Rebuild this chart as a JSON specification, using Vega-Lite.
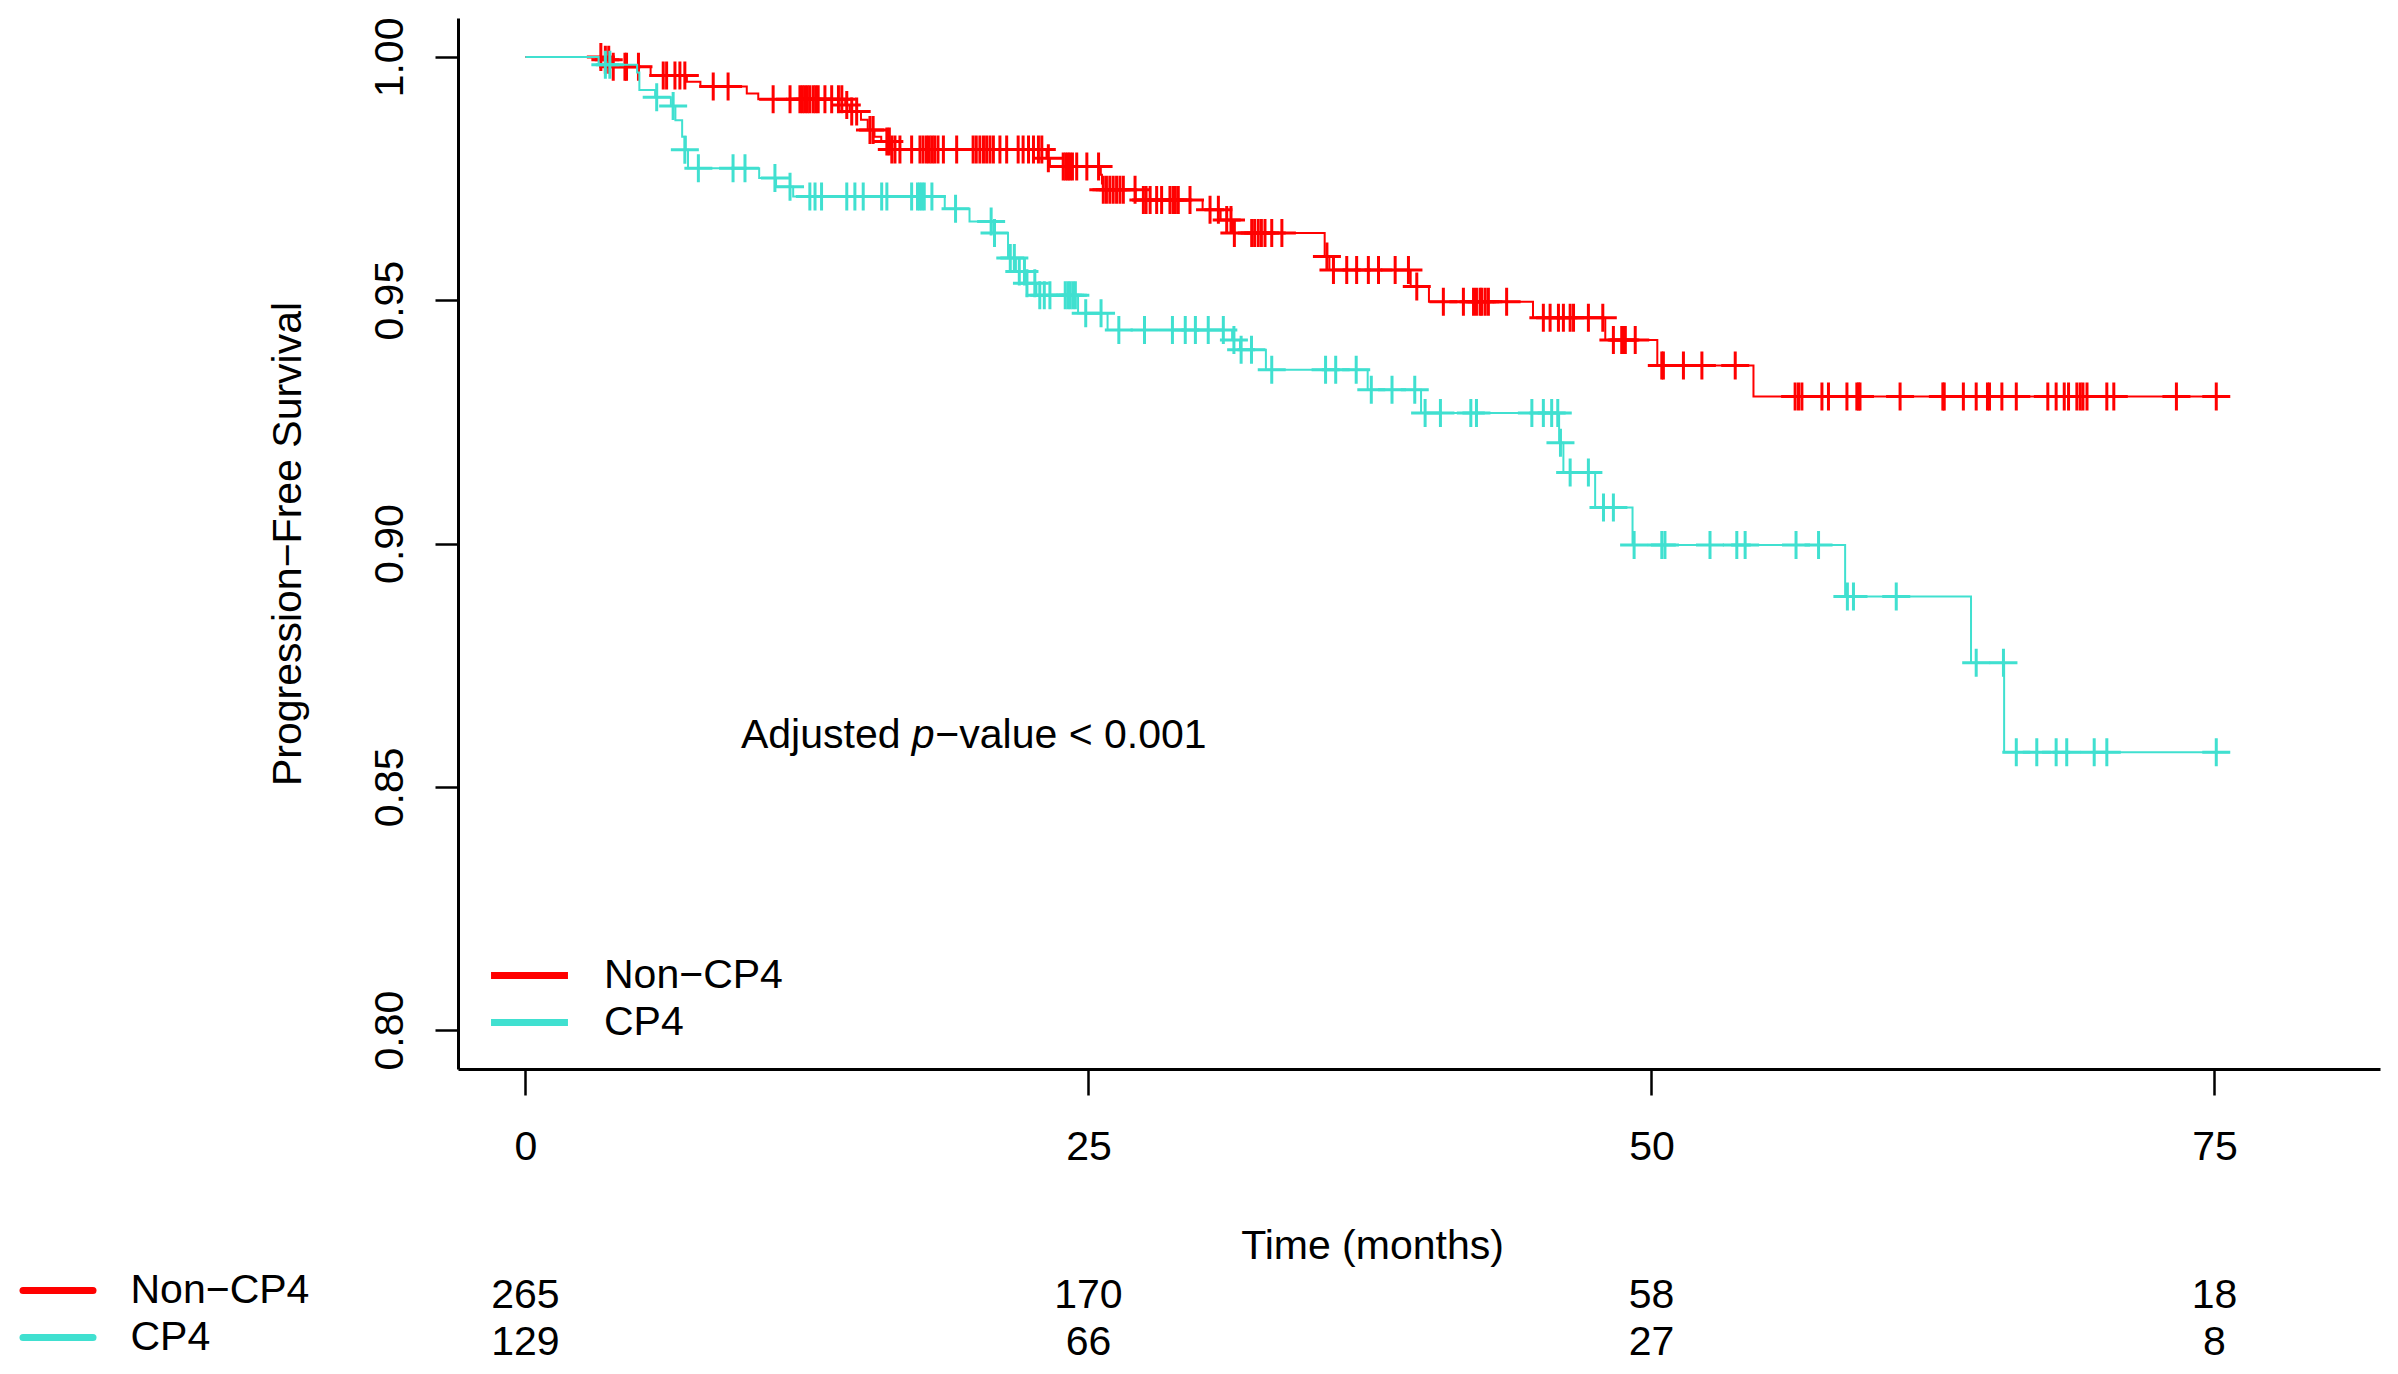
{
  "$schema": "https://vega.github.io/schema/vega-lite/v6.json",
  "width": 1922,
  "height": 1051,
  "autosize": {"type": "none"},
  "padding": {"left": 458, "top": 18, "right": 18, "bottom": 305},
  "background": "white",
  "config": {
    "view": {"stroke": null},
    "font": "Liberation Sans",
    "axis": {"labelFont": "Liberation Sans", "titleFont": "Liberation Sans", "domainColor": "black", "tickColor": "black", "labelColor": "black", "titleColor": "black", "grid": false},
    "legend": {"labelFont": "Liberation Sans", "labelColor": "black"},
    "text": {"font": "Liberation Sans"}
  },
  "datasets": {
    "curve": [
      {"group": "Non−CP4", "t": 0, "s": 1.0},
      {"group": "Non−CP4", "t": 3.35, "s": 0.9994},
      {"group": "Non−CP4", "t": 3.85, "s": 0.998},
      {"group": "Non−CP4", "t": 5.56, "s": 0.9962},
      {"group": "Non−CP4", "t": 7.17, "s": 0.9949},
      {"group": "Non−CP4", "t": 7.77, "s": 0.9939},
      {"group": "Non−CP4", "t": 9.83, "s": 0.9925},
      {"group": "Non−CP4", "t": 10.34, "s": 0.9913},
      {"group": "Non−CP4", "t": 14.2, "s": 0.9901},
      {"group": "Non−CP4", "t": 14.4, "s": 0.9888},
      {"group": "Non−CP4", "t": 14.9, "s": 0.9871},
      {"group": "Non−CP4", "t": 15.2, "s": 0.985},
      {"group": "Non−CP4", "t": 15.5, "s": 0.9836},
      {"group": "Non−CP4", "t": 15.8, "s": 0.9826},
      {"group": "Non−CP4", "t": 16.21, "s": 0.981},
      {"group": "Non−CP4", "t": 23.14, "s": 0.9792},
      {"group": "Non−CP4", "t": 23.29, "s": 0.9775},
      {"group": "Non−CP4", "t": 25.55, "s": 0.9758},
      {"group": "Non−CP4", "t": 25.6, "s": 0.974},
      {"group": "Non−CP4", "t": 25.65, "s": 0.9727},
      {"group": "Non−CP4", "t": 27.1, "s": 0.9706},
      {"group": "Non−CP4", "t": 30.07, "s": 0.9686},
      {"group": "Non−CP4", "t": 30.87, "s": 0.9665},
      {"group": "Non−CP4", "t": 31.4, "s": 0.9638},
      {"group": "Non−CP4", "t": 35.49, "s": 0.959},
      {"group": "Non−CP4", "t": 35.7, "s": 0.9562},
      {"group": "Non−CP4", "t": 39.31, "s": 0.9528},
      {"group": "Non−CP4", "t": 40.12, "s": 0.9497},
      {"group": "Non−CP4", "t": 44.74, "s": 0.9464},
      {"group": "Non−CP4", "t": 47.95, "s": 0.9418},
      {"group": "Non−CP4", "t": 50.26, "s": 0.9366},
      {"group": "Non−CP4", "t": 54.53, "s": 0.9302},
      {"group": "Non−CP4", "t": 75.68, "s": 0.9302},
      {"group": "CP4", "t": 0, "s": 1.0},
      {"group": "CP4", "t": 3.25, "s": 0.9984},
      {"group": "CP4", "t": 4.96, "s": 0.9968},
      {"group": "CP4", "t": 5.06, "s": 0.9932},
      {"group": "CP4", "t": 5.76, "s": 0.9917},
      {"group": "CP4", "t": 6.46, "s": 0.9899},
      {"group": "CP4", "t": 6.66, "s": 0.987},
      {"group": "CP4", "t": 6.96, "s": 0.9836},
      {"group": "CP4", "t": 7.12, "s": 0.9809},
      {"group": "CP4", "t": 7.22, "s": 0.9771},
      {"group": "CP4", "t": 10.38, "s": 0.9751},
      {"group": "CP4", "t": 11.13, "s": 0.9733},
      {"group": "CP4", "t": 11.89, "s": 0.9713},
      {"group": "CP4", "t": 18.62, "s": 0.9688},
      {"group": "CP4", "t": 19.72, "s": 0.9662},
      {"group": "CP4", "t": 20.78, "s": 0.9638},
      {"group": "CP4", "t": 21.43, "s": 0.9587},
      {"group": "CP4", "t": 21.78, "s": 0.9559},
      {"group": "CP4", "t": 22.23, "s": 0.9535},
      {"group": "CP4", "t": 22.69, "s": 0.951},
      {"group": "CP4", "t": 24.54, "s": 0.9473},
      {"group": "CP4", "t": 25.85, "s": 0.9439},
      {"group": "CP4", "t": 31.38, "s": 0.9418},
      {"group": "CP4", "t": 31.73, "s": 0.9398},
      {"group": "CP4", "t": 32.88, "s": 0.9357},
      {"group": "CP4", "t": 37.4, "s": 0.9316},
      {"group": "CP4", "t": 39.77, "s": 0.9268},
      {"group": "CP4", "t": 45.9, "s": 0.9207},
      {"group": "CP4", "t": 46.09, "s": 0.9146},
      {"group": "CP4", "t": 47.5, "s": 0.9074},
      {"group": "CP4", "t": 49.16, "s": 0.8997},
      {"group": "CP4", "t": 58.6, "s": 0.8891},
      {"group": "CP4", "t": 64.19, "s": 0.8755},
      {"group": "CP4", "t": 65.66, "s": 0.8571},
      {"group": "CP4", "t": 75.68, "s": 0.8571}
    ],
    "censor": [
      {"group": "Non−CP4", "t": 3.35, "s": 1.0},
      {"group": "Non−CP4", "t": 3.55, "s": 0.9994},
      {"group": "Non−CP4", "t": 3.7, "s": 0.9994},
      {"group": "Non−CP4", "t": 3.9, "s": 0.998},
      {"group": "Non−CP4", "t": 4.42, "s": 0.998},
      {"group": "Non−CP4", "t": 4.49, "s": 0.998},
      {"group": "Non−CP4", "t": 5.02, "s": 0.998},
      {"group": "Non−CP4", "t": 6.12, "s": 0.9962},
      {"group": "Non−CP4", "t": 6.27, "s": 0.9962},
      {"group": "Non−CP4", "t": 6.64, "s": 0.9962},
      {"group": "Non−CP4", "t": 6.86, "s": 0.9962},
      {"group": "Non−CP4", "t": 7.08, "s": 0.9962},
      {"group": "Non−CP4", "t": 8.34, "s": 0.9939},
      {"group": "Non−CP4", "t": 9.0, "s": 0.9939},
      {"group": "Non−CP4", "t": 11.0, "s": 0.9913},
      {"group": "Non−CP4", "t": 11.75, "s": 0.9913},
      {"group": "Non−CP4", "t": 12.19, "s": 0.9913},
      {"group": "Non−CP4", "t": 12.3, "s": 0.9913},
      {"group": "Non−CP4", "t": 12.41, "s": 0.9913},
      {"group": "Non−CP4", "t": 12.52, "s": 0.9913},
      {"group": "Non−CP4", "t": 12.63, "s": 0.9913},
      {"group": "Non−CP4", "t": 12.78, "s": 0.9913},
      {"group": "Non−CP4", "t": 12.89, "s": 0.9913},
      {"group": "Non−CP4", "t": 13.0, "s": 0.9913},
      {"group": "Non−CP4", "t": 13.3, "s": 0.9913},
      {"group": "Non−CP4", "t": 13.6, "s": 0.9913},
      {"group": "Non−CP4", "t": 13.9, "s": 0.9913},
      {"group": "Non−CP4", "t": 14.05, "s": 0.9913},
      {"group": "Non−CP4", "t": 14.27, "s": 0.9901},
      {"group": "Non−CP4", "t": 14.49, "s": 0.9888},
      {"group": "Non−CP4", "t": 14.71, "s": 0.9888},
      {"group": "Non−CP4", "t": 15.3, "s": 0.985},
      {"group": "Non−CP4", "t": 15.44, "s": 0.985},
      {"group": "Non−CP4", "t": 16.05, "s": 0.9826},
      {"group": "Non−CP4", "t": 16.16, "s": 0.9826},
      {"group": "Non−CP4", "t": 16.27, "s": 0.981},
      {"group": "Non−CP4", "t": 16.41, "s": 0.981},
      {"group": "Non−CP4", "t": 16.63, "s": 0.981},
      {"group": "Non−CP4", "t": 17.15, "s": 0.981},
      {"group": "Non−CP4", "t": 17.52, "s": 0.981},
      {"group": "Non−CP4", "t": 17.66, "s": 0.981},
      {"group": "Non−CP4", "t": 17.81, "s": 0.981},
      {"group": "Non−CP4", "t": 17.93, "s": 0.981},
      {"group": "Non−CP4", "t": 18.05, "s": 0.981},
      {"group": "Non−CP4", "t": 18.17, "s": 0.981},
      {"group": "Non−CP4", "t": 18.32, "s": 0.981},
      {"group": "Non−CP4", "t": 18.56, "s": 0.981},
      {"group": "Non−CP4", "t": 19.15, "s": 0.981},
      {"group": "Non−CP4", "t": 19.88, "s": 0.981},
      {"group": "Non−CP4", "t": 20.02, "s": 0.981},
      {"group": "Non−CP4", "t": 20.18, "s": 0.981},
      {"group": "Non−CP4", "t": 20.34, "s": 0.981},
      {"group": "Non−CP4", "t": 20.48, "s": 0.981},
      {"group": "Non−CP4", "t": 20.63, "s": 0.981},
      {"group": "Non−CP4", "t": 20.78, "s": 0.981},
      {"group": "Non−CP4", "t": 21.07, "s": 0.981},
      {"group": "Non−CP4", "t": 21.37, "s": 0.981},
      {"group": "Non−CP4", "t": 21.88, "s": 0.981},
      {"group": "Non−CP4", "t": 22.1, "s": 0.981},
      {"group": "Non−CP4", "t": 22.34, "s": 0.981},
      {"group": "Non−CP4", "t": 22.56, "s": 0.981},
      {"group": "Non−CP4", "t": 22.78, "s": 0.981},
      {"group": "Non−CP4", "t": 22.93, "s": 0.981},
      {"group": "Non−CP4", "t": 23.22, "s": 0.9792},
      {"group": "Non−CP4", "t": 23.88, "s": 0.9775},
      {"group": "Non−CP4", "t": 23.99, "s": 0.9775},
      {"group": "Non−CP4", "t": 24.09, "s": 0.9775},
      {"group": "Non−CP4", "t": 24.18, "s": 0.9775},
      {"group": "Non−CP4", "t": 24.29, "s": 0.9775},
      {"group": "Non−CP4", "t": 24.48, "s": 0.9775},
      {"group": "Non−CP4", "t": 24.93, "s": 0.9775},
      {"group": "Non−CP4", "t": 25.45, "s": 0.9775},
      {"group": "Non−CP4", "t": 25.66, "s": 0.9727},
      {"group": "Non−CP4", "t": 25.8, "s": 0.9727},
      {"group": "Non−CP4", "t": 25.95, "s": 0.9727},
      {"group": "Non−CP4", "t": 26.1, "s": 0.9727},
      {"group": "Non−CP4", "t": 26.25, "s": 0.9727},
      {"group": "Non−CP4", "t": 26.4, "s": 0.9727},
      {"group": "Non−CP4", "t": 26.55, "s": 0.9727},
      {"group": "Non−CP4", "t": 27.07, "s": 0.9727},
      {"group": "Non−CP4", "t": 27.44, "s": 0.9706},
      {"group": "Non−CP4", "t": 27.56, "s": 0.9706},
      {"group": "Non−CP4", "t": 27.74, "s": 0.9706},
      {"group": "Non−CP4", "t": 28.03, "s": 0.9706},
      {"group": "Non−CP4", "t": 28.25, "s": 0.9706},
      {"group": "Non−CP4", "t": 28.62, "s": 0.9706},
      {"group": "Non−CP4", "t": 28.76, "s": 0.9706},
      {"group": "Non−CP4", "t": 28.86, "s": 0.9706},
      {"group": "Non−CP4", "t": 28.99, "s": 0.9706},
      {"group": "Non−CP4", "t": 29.51, "s": 0.9706},
      {"group": "Non−CP4", "t": 30.4, "s": 0.9686},
      {"group": "Non−CP4", "t": 30.77, "s": 0.9686},
      {"group": "Non−CP4", "t": 31.14, "s": 0.9665},
      {"group": "Non−CP4", "t": 31.33, "s": 0.9665},
      {"group": "Non−CP4", "t": 31.48, "s": 0.9638},
      {"group": "Non−CP4", "t": 32.25, "s": 0.9638},
      {"group": "Non−CP4", "t": 32.38, "s": 0.9638},
      {"group": "Non−CP4", "t": 32.54, "s": 0.9638},
      {"group": "Non−CP4", "t": 32.68, "s": 0.9638},
      {"group": "Non−CP4", "t": 32.84, "s": 0.9638},
      {"group": "Non−CP4", "t": 33.14, "s": 0.9638},
      {"group": "Non−CP4", "t": 33.59, "s": 0.9638},
      {"group": "Non−CP4", "t": 35.59, "s": 0.959},
      {"group": "Non−CP4", "t": 35.88, "s": 0.9562},
      {"group": "Non−CP4", "t": 36.47, "s": 0.9562},
      {"group": "Non−CP4", "t": 36.91, "s": 0.9562},
      {"group": "Non−CP4", "t": 37.43, "s": 0.9562},
      {"group": "Non−CP4", "t": 37.88, "s": 0.9562},
      {"group": "Non−CP4", "t": 38.62, "s": 0.9562},
      {"group": "Non−CP4", "t": 39.21, "s": 0.9562},
      {"group": "Non−CP4", "t": 39.58, "s": 0.9528},
      {"group": "Non−CP4", "t": 40.76, "s": 0.9497},
      {"group": "Non−CP4", "t": 41.65, "s": 0.9497},
      {"group": "Non−CP4", "t": 42.1, "s": 0.9497},
      {"group": "Non−CP4", "t": 42.23, "s": 0.9497},
      {"group": "Non−CP4", "t": 42.39, "s": 0.9497},
      {"group": "Non−CP4", "t": 42.47, "s": 0.9497},
      {"group": "Non−CP4", "t": 42.62, "s": 0.9497},
      {"group": "Non−CP4", "t": 42.76, "s": 0.9497},
      {"group": "Non−CP4", "t": 43.57, "s": 0.9497},
      {"group": "Non−CP4", "t": 45.2, "s": 0.9464},
      {"group": "Non−CP4", "t": 45.5, "s": 0.9464},
      {"group": "Non−CP4", "t": 45.87, "s": 0.9464},
      {"group": "Non−CP4", "t": 46.09, "s": 0.9464},
      {"group": "Non−CP4", "t": 46.39, "s": 0.9464},
      {"group": "Non−CP4", "t": 46.54, "s": 0.9464},
      {"group": "Non−CP4", "t": 47.2, "s": 0.9464},
      {"group": "Non−CP4", "t": 47.84, "s": 0.9464},
      {"group": "Non−CP4", "t": 48.31, "s": 0.9418},
      {"group": "Non−CP4", "t": 48.68, "s": 0.9418},
      {"group": "Non−CP4", "t": 48.76, "s": 0.9418},
      {"group": "Non−CP4", "t": 48.84, "s": 0.9418},
      {"group": "Non−CP4", "t": 49.28, "s": 0.9418},
      {"group": "Non−CP4", "t": 50.46, "s": 0.9366},
      {"group": "Non−CP4", "t": 50.53, "s": 0.9366},
      {"group": "Non−CP4", "t": 51.42, "s": 0.9366},
      {"group": "Non−CP4", "t": 52.24, "s": 0.9366},
      {"group": "Non−CP4", "t": 53.72, "s": 0.9366},
      {"group": "Non−CP4", "t": 56.38, "s": 0.9302},
      {"group": "Non−CP4", "t": 56.53, "s": 0.9302},
      {"group": "Non−CP4", "t": 56.68, "s": 0.9302},
      {"group": "Non−CP4", "t": 57.57, "s": 0.9302},
      {"group": "Non−CP4", "t": 57.86, "s": 0.9302},
      {"group": "Non−CP4", "t": 58.68, "s": 0.9302},
      {"group": "Non−CP4", "t": 59.12, "s": 0.9302},
      {"group": "Non−CP4", "t": 59.2, "s": 0.9302},
      {"group": "Non−CP4", "t": 59.26, "s": 0.9302},
      {"group": "Non−CP4", "t": 61.04, "s": 0.9302},
      {"group": "Non−CP4", "t": 62.94, "s": 0.9302},
      {"group": "Non−CP4", "t": 63.0, "s": 0.9302},
      {"group": "Non−CP4", "t": 63.85, "s": 0.9302},
      {"group": "Non−CP4", "t": 64.42, "s": 0.9302},
      {"group": "Non−CP4", "t": 64.92, "s": 0.9302},
      {"group": "Non−CP4", "t": 65.01, "s": 0.9302},
      {"group": "Non−CP4", "t": 65.56, "s": 0.9302},
      {"group": "Non−CP4", "t": 66.2, "s": 0.9302},
      {"group": "Non−CP4", "t": 67.6, "s": 0.9302},
      {"group": "Non−CP4", "t": 67.97, "s": 0.9302},
      {"group": "Non−CP4", "t": 68.33, "s": 0.9302},
      {"group": "Non−CP4", "t": 68.52, "s": 0.9302},
      {"group": "Non−CP4", "t": 68.89, "s": 0.9302},
      {"group": "Non−CP4", "t": 69.04, "s": 0.9302},
      {"group": "Non−CP4", "t": 69.16, "s": 0.9302},
      {"group": "Non−CP4", "t": 69.34, "s": 0.9302},
      {"group": "Non−CP4", "t": 70.22, "s": 0.9302},
      {"group": "Non−CP4", "t": 70.53, "s": 0.9302},
      {"group": "Non−CP4", "t": 73.31, "s": 0.9302},
      {"group": "Non−CP4", "t": 75.08, "s": 0.9302},
      {"group": "CP4", "t": 3.55, "s": 0.9984},
      {"group": "CP4", "t": 3.75, "s": 0.9984},
      {"group": "CP4", "t": 5.83, "s": 0.9917},
      {"group": "CP4", "t": 6.56, "s": 0.9899},
      {"group": "CP4", "t": 7.08, "s": 0.9809},
      {"group": "CP4", "t": 7.68, "s": 0.9771},
      {"group": "CP4", "t": 9.22, "s": 0.9771},
      {"group": "CP4", "t": 9.75, "s": 0.9771},
      {"group": "CP4", "t": 11.08, "s": 0.9751},
      {"group": "CP4", "t": 11.75, "s": 0.9733},
      {"group": "CP4", "t": 12.63, "s": 0.9713},
      {"group": "CP4", "t": 12.86, "s": 0.9713},
      {"group": "CP4", "t": 13.15, "s": 0.9713},
      {"group": "CP4", "t": 14.27, "s": 0.9713},
      {"group": "CP4", "t": 14.63, "s": 0.9713},
      {"group": "CP4", "t": 15.0, "s": 0.9713},
      {"group": "CP4", "t": 15.82, "s": 0.9713},
      {"group": "CP4", "t": 16.05, "s": 0.9713},
      {"group": "CP4", "t": 17.15, "s": 0.9713},
      {"group": "CP4", "t": 17.41, "s": 0.9713},
      {"group": "CP4", "t": 17.51, "s": 0.9713},
      {"group": "CP4", "t": 17.61, "s": 0.9713},
      {"group": "CP4", "t": 17.71, "s": 0.9713},
      {"group": "CP4", "t": 18.05, "s": 0.9713},
      {"group": "CP4", "t": 19.1, "s": 0.9688},
      {"group": "CP4", "t": 20.68, "s": 0.9662},
      {"group": "CP4", "t": 20.83, "s": 0.9638},
      {"group": "CP4", "t": 21.53, "s": 0.9587},
      {"group": "CP4", "t": 21.71, "s": 0.9587},
      {"group": "CP4", "t": 21.93, "s": 0.9559},
      {"group": "CP4", "t": 22.16, "s": 0.9559},
      {"group": "CP4", "t": 22.27, "s": 0.9535},
      {"group": "CP4", "t": 22.62, "s": 0.9535},
      {"group": "CP4", "t": 22.84, "s": 0.951},
      {"group": "CP4", "t": 23.04, "s": 0.951},
      {"group": "CP4", "t": 23.29, "s": 0.951},
      {"group": "CP4", "t": 23.97, "s": 0.951},
      {"group": "CP4", "t": 24.09, "s": 0.951},
      {"group": "CP4", "t": 24.19, "s": 0.951},
      {"group": "CP4", "t": 24.31, "s": 0.951},
      {"group": "CP4", "t": 24.42, "s": 0.951},
      {"group": "CP4", "t": 24.88, "s": 0.9473},
      {"group": "CP4", "t": 25.56, "s": 0.9473},
      {"group": "CP4", "t": 26.35, "s": 0.9439},
      {"group": "CP4", "t": 27.49, "s": 0.9439},
      {"group": "CP4", "t": 28.73, "s": 0.9439},
      {"group": "CP4", "t": 29.3, "s": 0.9439},
      {"group": "CP4", "t": 29.75, "s": 0.9439},
      {"group": "CP4", "t": 30.32, "s": 0.9439},
      {"group": "CP4", "t": 30.99, "s": 0.9439},
      {"group": "CP4", "t": 31.46, "s": 0.9418},
      {"group": "CP4", "t": 31.78, "s": 0.9398},
      {"group": "CP4", "t": 32.24, "s": 0.9398},
      {"group": "CP4", "t": 33.14, "s": 0.9357},
      {"group": "CP4", "t": 35.53, "s": 0.9357},
      {"group": "CP4", "t": 35.98, "s": 0.9357},
      {"group": "CP4", "t": 36.89, "s": 0.9357},
      {"group": "CP4", "t": 37.56, "s": 0.9316},
      {"group": "CP4", "t": 38.48, "s": 0.9316},
      {"group": "CP4", "t": 39.49, "s": 0.9316},
      {"group": "CP4", "t": 39.95, "s": 0.9268},
      {"group": "CP4", "t": 40.63, "s": 0.9268},
      {"group": "CP4", "t": 41.98, "s": 0.9268},
      {"group": "CP4", "t": 42.23, "s": 0.9268},
      {"group": "CP4", "t": 44.69, "s": 0.9268},
      {"group": "CP4", "t": 45.2, "s": 0.9268},
      {"group": "CP4", "t": 45.57, "s": 0.9268},
      {"group": "CP4", "t": 45.84, "s": 0.9268},
      {"group": "CP4", "t": 45.96, "s": 0.9207},
      {"group": "CP4", "t": 46.39, "s": 0.9146},
      {"group": "CP4", "t": 47.2, "s": 0.9146},
      {"group": "CP4", "t": 47.87, "s": 0.9074},
      {"group": "CP4", "t": 48.31, "s": 0.9074},
      {"group": "CP4", "t": 49.23, "s": 0.8997},
      {"group": "CP4", "t": 50.46, "s": 0.8997},
      {"group": "CP4", "t": 50.6, "s": 0.8997},
      {"group": "CP4", "t": 52.6, "s": 0.8997},
      {"group": "CP4", "t": 53.79, "s": 0.8997},
      {"group": "CP4", "t": 54.16, "s": 0.8997},
      {"group": "CP4", "t": 56.42, "s": 0.8997},
      {"group": "CP4", "t": 57.42, "s": 0.8997},
      {"group": "CP4", "t": 58.7, "s": 0.8891},
      {"group": "CP4", "t": 58.97, "s": 0.8891},
      {"group": "CP4", "t": 60.87, "s": 0.8891},
      {"group": "CP4", "t": 64.42, "s": 0.8755},
      {"group": "CP4", "t": 65.63, "s": 0.8755},
      {"group": "CP4", "t": 66.2, "s": 0.8571},
      {"group": "CP4", "t": 67.11, "s": 0.8571},
      {"group": "CP4", "t": 67.97, "s": 0.8571},
      {"group": "CP4", "t": 68.44, "s": 0.8571},
      {"group": "CP4", "t": 69.66, "s": 0.8571},
      {"group": "CP4", "t": 70.22, "s": 0.8571},
      {"group": "CP4", "t": 75.08, "s": 0.8571}
    ],
    "risk": [
      {"group": "Non−CP4", "t": 0, "n": 265},
      {"group": "Non−CP4", "t": 25, "n": 170},
      {"group": "Non−CP4", "t": 50, "n": 58},
      {"group": "Non−CP4", "t": 75, "n": 18},
      {"group": "CP4", "t": 0, "n": 129},
      {"group": "CP4", "t": 25, "n": 66},
      {"group": "CP4", "t": 50, "n": 27},
      {"group": "CP4", "t": 75, "n": 8}
    ]
  },
  "layer": [
    {
      "layer": [
        {
          "data": {"name": "curve"},
          "transform": [{"filter": "datum.group === 'Non−CP4'"}],
          "mark": {"type": "line", "interpolate": "step-after", "strokeWidth": 2},
          "encoding": {
            "x": {"field": "t", "type": "quantitative", "scale": {"domain": [-2.993, 82.35], "nice": false, "zero": false},
              "axis": {"values": [0, 25, 50, 75], "labelFontSize": 41, "labelPadding": 32, "tickSize": 26, "tickWidth": 2.5, "domainWidth": 3, "labelFlush": false, "labelOverlap": false,
                "title": "Time (months)", "titleFontSize": 41, "titleFontWeight": "normal", "titleX": 914, "titleY": 189, "titleAlign": "center", "titleBaseline": "alphabetic"}},
            "y": {"field": "s", "type": "quantitative", "scale": {"domain": [0.792, 1.008], "nice": false, "zero": false},
              "axis": {"values": [0.8, 0.85, 0.9, 0.95, 1.0], "format": ".2f", "labelAngle": 270, "labelAlign": "center", "labelBaseline": "alphabetic", "labelPadding": 33, "tickSize": 23, "tickWidth": 2.5, "domainWidth": 3, "labelFontSize": 41, "labelFlush": false, "labelOverlap": false,
                "title": "Progression−Free Survival", "titleFontSize": 41, "titleFontWeight": "normal", "titleAngle": 270, "titleX": -158, "titleY": 525.5, "titleAlign": "center", "titleBaseline": "alphabetic"}},
            "color": {"field": "group", "type": "nominal", "scale": {"domain": ["Non−CP4", "CP4"], "range": ["#FF0000", "#40E0D0"]},
              "legend": {"orient": "none", "legendX": 51, "legendY": 937, "title": null, "symbolType": "M-4,0H4", "symbolSize": 370, "symbolStrokeWidth": 7, "symbolOpacity": 1, "labelFontSize": 41, "labelOffset": 54, "labelLimit": 1000, "rowPadding": 5, "padding": 0}}
          }
        },
        {
          "data": {"name": "censor"},
          "transform": [{"filter": "datum.group === 'Non−CP4'"}],
          "mark": {"type": "point", "shape": "M-1,0H1M0,-1V1", "size": 784, "filled": false, "strokeWidth": 3, "opacity": 1},
          "encoding": {
            "x": {"field": "t", "type": "quantitative"},
            "y": {"field": "s", "type": "quantitative"},
            "color": {"field": "group", "type": "nominal"}
          }
        },
        {
          "data": {"name": "curve"},
          "transform": [{"filter": "datum.group === 'CP4'"}],
          "mark": {"type": "line", "interpolate": "step-after", "strokeWidth": 2},
          "encoding": {
            "x": {"field": "t", "type": "quantitative"},
            "y": {"field": "s", "type": "quantitative"},
            "color": {"field": "group", "type": "nominal"}
          }
        },
        {
          "data": {"name": "censor"},
          "transform": [{"filter": "datum.group === 'CP4'"}],
          "mark": {"type": "point", "shape": "M-1,0H1M0,-1V1", "size": 784, "filled": false, "strokeWidth": 3, "opacity": 1},
          "encoding": {
            "x": {"field": "t", "type": "quantitative"},
            "y": {"field": "s", "type": "quantitative"},
            "color": {"field": "group", "type": "nominal"}
          }
        },
        {
          "data": {"values": [{}]},
          "mark": {"type": "text", "text": "Adjusted", "fontSize": 41, "align": "left", "baseline": "alphabetic", "color": "black"},
          "encoding": {"x": {"datum": 9.57}, "y": {"datum": 0.858}}
        },
        {
          "data": {"values": [{}]},
          "mark": {"type": "text", "text": "p", "fontSize": 41, "fontStyle": "italic", "align": "left", "baseline": "alphabetic", "color": "black"},
          "encoding": {"x": {"datum": 17.15}, "y": {"datum": 0.858}}
        },
        {
          "data": {"values": [{}]},
          "mark": {"type": "text", "text": "−value < 0.001", "fontSize": 41, "align": "left", "baseline": "alphabetic", "color": "black"},
          "encoding": {"x": {"datum": 18.2}, "y": {"datum": 0.858}}
        }
      ]
    },
    {
      "data": {"name": "risk"},
      "mark": {"type": "text", "fontSize": 41, "align": "center", "baseline": "middle", "dy": 6, "color": "black"},
      "encoding": {
        "x": {"field": "t", "type": "quantitative"},
        "y": {"field": "group", "type": "nominal", "scale": {"type": "point", "domain": ["Non−CP4", "CP4"], "range": [1272, 1319], "padding": 0},
          "axis": {"orient": "right", "offset": -2357.5, "domain": false, "grid": false, "tickSize": 70, "tickWidth": 7, "tickCap": "round",
            "tickColor": {"condition": {"test": "datum.value === 'CP4'", "value": "#40E0D0"}, "value": "#FF0000"},
            "labelFontSize": 41, "labelPadding": 37.5, "labelAlign": "left", "labelBaseline": "middle", "title": null}},
        "text": {"field": "n", "type": "quantitative"}
      }
    }
  ],
  "resolve": {"scale": {"y": "independent"}}
}
